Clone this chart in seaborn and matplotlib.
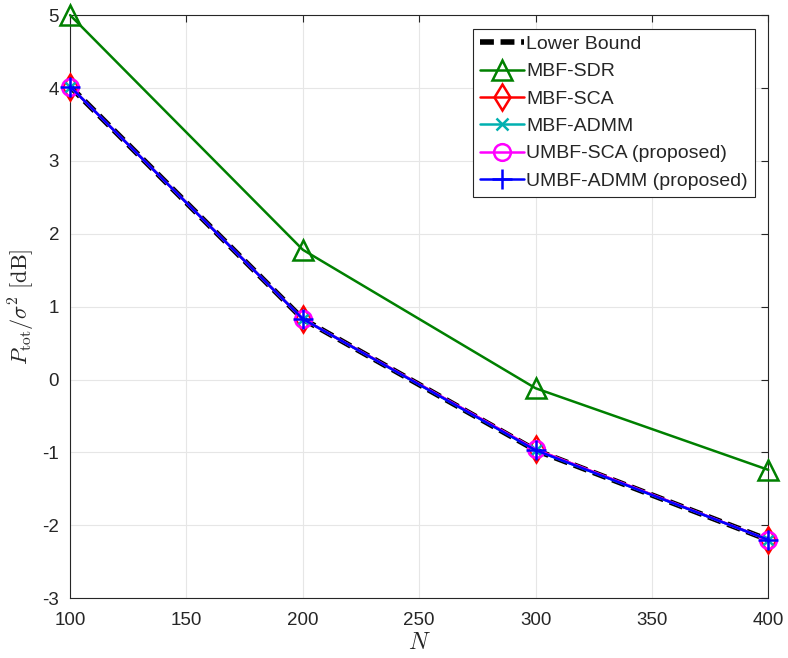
import numpy as np
import pandas as pd
import matplotlib
matplotlib.use("Agg")
import matplotlib.pyplot as plt
import seaborn as sns

sns.set_style("whitegrid")
plt.rcParams['font.family'] = ['Liberation Sans', 'DejaVu Sans']
plt.rcParams['mathtext.fontset'] = 'cm'
plt.rcParams['axes.unicode_minus'] = False

N = [100, 200, 300, 400]
lower_bound = [4.02, 0.83, -0.97, -2.20]
mbf_sdr = [5.0, 1.78, -0.12, -1.24]
mbf_sca = [4.02, 0.83, -0.96, -2.20]
mbf_admm = [4.02, 0.83, -0.97, -2.20]
umbf_sca = [4.02, 0.83, -0.96, -2.20]
umbf_admm = [4.02, 0.83, -0.97, -2.20]

series = [
    ("Lower Bound", lower_bound, "black", None, (0, (2.5, 1.2)), 4.0, 0),
    ("MBF-SDR", mbf_sdr, "#008000", "^", "-", 1.8, 14),
    ("MBF-SCA", mbf_sca, "red", "d", "-", 1.8, 13),
    ("MBF-ADMM", mbf_admm, "#00b0b0", "x", "-", 1.8, 9),
    ("UMBF-SCA (proposed)", umbf_sca, "magenta", "o", "-", 1.8, 12),
    ("UMBF-ADMM (proposed)", umbf_admm, "blue", "+", "-", 1.8, 14),
]

fig, ax = plt.subplots(figsize=(7.88, 6.58), dpi=100)
fig.subplots_adjust(left=0.089, right=0.975, top=0.977, bottom=0.091)

for name, vals, color, marker, ls, lw, ms in series:
    df = pd.DataFrame({"N": N, "P": vals})
    sns.lineplot(data=df, x="N", y="P", ax=ax, color=color, marker=marker,
                 linestyle=ls, linewidth=lw, markersize=ms, label=name,
                 markerfacecolor="none", markeredgecolor=color,
                 markeredgewidth=1.8, clip_on=False, zorder=3)

ax.set_xlim(100, 400)
ax.set_ylim(-3, 5)
ax.set_xticks(range(100, 401, 50))
ax.set_yticks(range(-3, 6))
ax.grid(True, color="#e6e6e6", linewidth=0.8)
for s in ax.spines.values():
    s.set_color("#262626")
    s.set_linewidth(0.8)
    s.set_zorder(1)
ax.tick_params(direction="in", length=5, labelsize=13.5, colors="#262626",
               top=True, right=True)
ax.tick_params(axis="x", pad=10)
ax.tick_params(axis="y", pad=8)
ax.set_xlabel(r"$N$", fontsize=17, labelpad=2)
ax.set_ylabel(r"$P_{\rm tot}/\sigma^2\ [\rm dB]$", fontsize=16, labelpad=4)

leg = ax.legend(loc="upper right", fontsize=14, frameon=True, fancybox=False,
                edgecolor="#262626", handlelength=2.3, handletextpad=0.1,
                borderpad=0.35, labelspacing=0.5, borderaxespad=0.7,
                framealpha=1)
leg.get_frame().set_linewidth(0.8)

fig.savefig("out.png", dpi=100)
